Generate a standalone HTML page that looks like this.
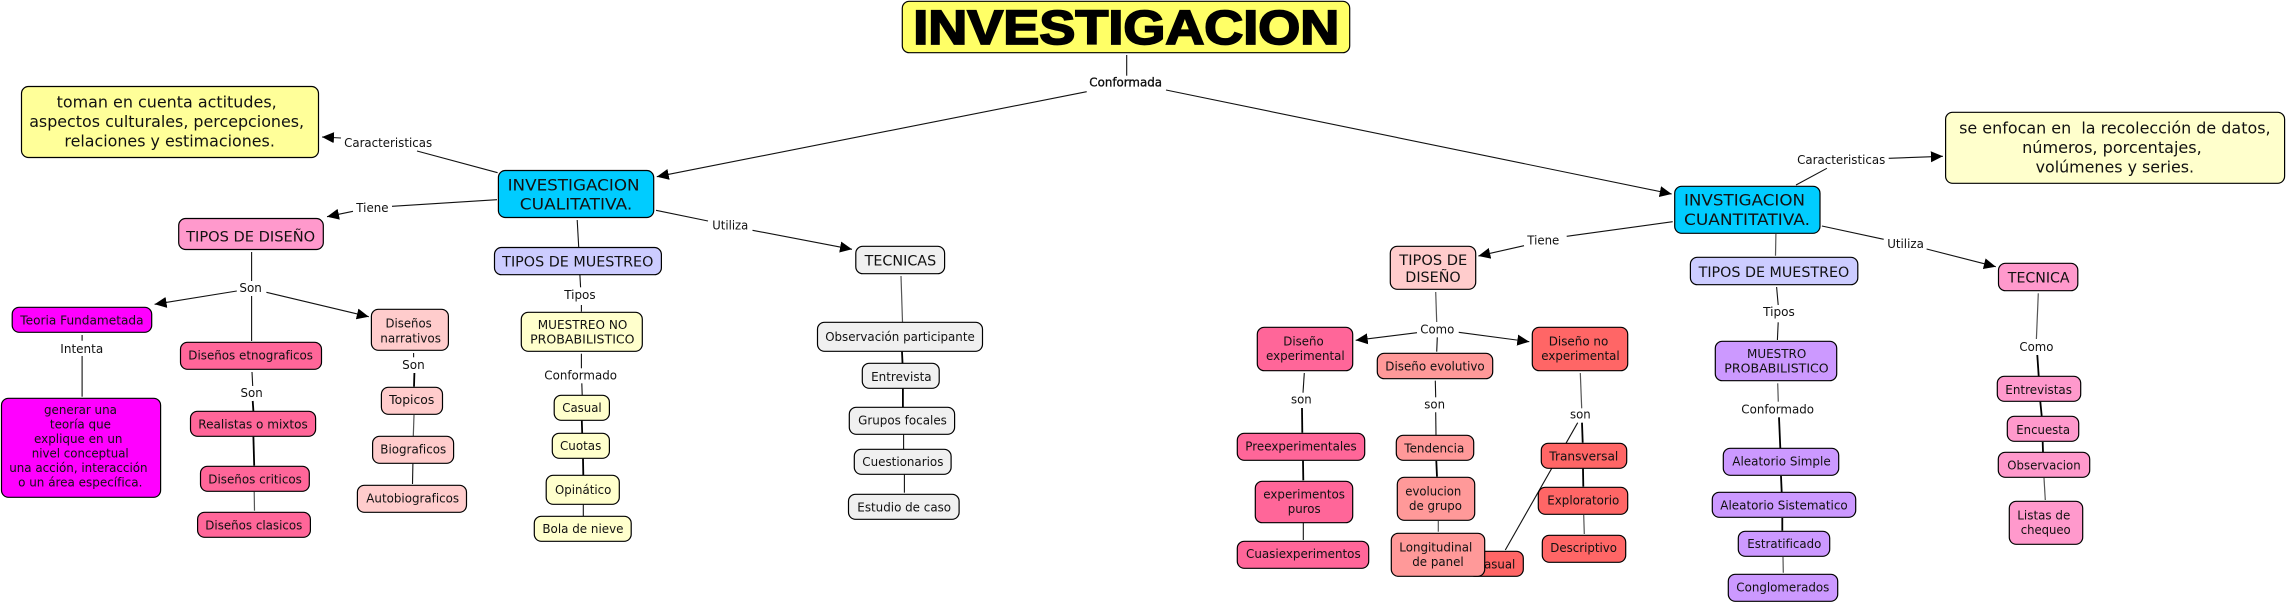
<!DOCTYPE html>
<html lang="es"><head><meta charset="utf-8"><title>Investigacion</title>
<style>
html,body{margin:0;padding:0;background:#fff;width:2286px;height:604px;overflow:hidden}
svg{display:block}
text{font-family:"DejaVu Sans","Liberation Sans",sans-serif;font-size:12px;fill:#111;lengthAdjust:spacingAndGlyphs}
.b{font-size:16px}.m{font-size:14px}
line{stroke:#111;stroke-width:1.1}
.t{stroke-width:1.8;stroke:#000}
.g{stroke:#555;stroke-width:1.2}
.n rect{stroke:#000;stroke-width:1.2}
</style></head><body>
<svg width="2286" height="604" viewBox="0 0 2286 604" xmlns="http://www.w3.org/2000/svg">
<defs><marker id="a" markerUnits="userSpaceOnUse" markerWidth="14" markerHeight="12" refX="12" refY="5.5" orient="auto"><path d="M0 0L12 5.5L0 11z" fill="#000"/></marker></defs>

<g>
<line x1="1126.7" y1="55" x2="1126.7" y2="75.7"/>
<line x1="1086.7" y1="91.7" x2="656.8" y2="176.7" marker-end="url(#a)"/>
<line x1="1166" y1="90" x2="1671.7" y2="194" marker-end="url(#a)"/>
<line x1="417" y1="151" x2="497.6" y2="172.7"/>
<line x1="341" y1="138" x2="322" y2="137" marker-end="url(#a)"/>
<line x1="392" y1="206.3" x2="497" y2="199.7"/>
<line x1="353" y1="211.3" x2="327" y2="216.7" marker-end="url(#a)"/>
<line x1="251.6" y1="252" x2="251.6" y2="281"/>
<line x1="236.8" y1="291" x2="154.6" y2="304.3" marker-end="url(#a)"/>
<line x1="266.4" y1="292.3" x2="368.8" y2="316.7" marker-end="url(#a)"/>
<line x1="251.6" y1="296" x2="251.6" y2="341"/>
<line x1="82.1" y1="335" x2="82.1" y2="340.7"/>
<line x1="82.1" y1="356" x2="82.1" y2="396.7"/>
<line x1="252" y1="372" x2="252.7" y2="386"/>
<line class="t" x1="252.7" y1="401" x2="253.4" y2="411"/>
<line class="t" x1="253.4" y1="436.7" x2="254.2" y2="465.7"/>
<line class="g" x1="254.2" y1="491.7" x2="254.5" y2="510.7"/>
<line x1="413.6" y1="353" x2="413.6" y2="357.3"/>
<line class="t" x1="414.4" y1="373" x2="414" y2="386.7"/>
<line class="g" x1="414" y1="415" x2="413.3" y2="436"/>
<line x1="412.9" y1="463.7" x2="412.5" y2="484"/>
<line x1="577.2" y1="220" x2="578.7" y2="247"/>
<line x1="579.9" y1="275" x2="580.6" y2="287.3"/>
<line x1="581.4" y1="305" x2="581.4" y2="311.7"/>
<line x1="656" y1="210.3" x2="708" y2="221"/>
<line x1="752.5" y1="230.3" x2="852" y2="249.3" marker-end="url(#a)"/>
<line class="g" x1="901" y1="276" x2="902.5" y2="322"/>
<line x1="581.4" y1="353.7" x2="581.4" y2="368.3"/>
<line x1="581.8" y1="383.3" x2="582.2" y2="395"/>
<line class="t" x1="581.8" y1="420.7" x2="582.2" y2="433.3"/>
<line class="t" x1="583" y1="458.7" x2="583.3" y2="475"/>
<line x1="583.3" y1="504.7" x2="583.3" y2="516"/>
<line class="t" x1="902" y1="351.7" x2="902.5" y2="363"/>
<line class="t" x1="902.9" y1="388.7" x2="902.9" y2="407"/>
<line x1="903.6" y1="434.7" x2="903.6" y2="449"/>
<line x1="904.4" y1="474.7" x2="904.4" y2="492.7"/>
<line x1="1672.7" y1="221.7" x2="1566.7" y2="236.3"/>
<line x1="1524" y1="245.7" x2="1478.3" y2="256" marker-end="url(#a)"/>
<line class="g" x1="1435.7" y1="292" x2="1436.7" y2="322"/>
<line x1="1417" y1="332.7" x2="1355.7" y2="340.3" marker-end="url(#a)"/>
<line x1="1458.7" y1="332.3" x2="1529.3" y2="341.7" marker-end="url(#a)"/>
<line x1="1437.3" y1="337.3" x2="1436.7" y2="351.7"/>
<line x1="1304.3" y1="373" x2="1303" y2="392.7"/>
<line class="t" x1="1302" y1="408" x2="1302.3" y2="432.7"/>
<line class="t" x1="1303" y1="460.7" x2="1303.3" y2="480.3"/>
<line x1="1303.3" y1="523" x2="1303.3" y2="540"/>
<line x1="1435.3" y1="380.7" x2="1435.7" y2="397.3"/>
<line x1="1435.7" y1="412.3" x2="1436" y2="435"/>
<line class="t" x1="1436.3" y1="461" x2="1437" y2="476.7"/>
<line class="g" x1="1438.3" y1="521" x2="1438.3" y2="531.7"/>
<line class="g" x1="1580.3" y1="373" x2="1581.7" y2="408.3"/>
<line class="t" x1="1582" y1="422.7" x2="1582.7" y2="442.7"/>
<line x1="1577.7" y1="422.7" x2="1505.3" y2="550"/>
<line class="t" x1="1583" y1="468.7" x2="1583.3" y2="486.7"/>
<line class="g" x1="1583.7" y1="515" x2="1584.3" y2="534"/>
<line x1="1796" y1="185" x2="1826.9" y2="168.3"/>
<line x1="1888.7" y1="158.3" x2="1942.9" y2="156.3" marker-end="url(#a)"/>
<line class="g" x1="1775.9" y1="234" x2="1775.5" y2="255.7"/>
<line x1="1776.6" y1="287" x2="1778.2" y2="305"/>
<line x1="1778.2" y1="322.3" x2="1777.4" y2="340"/>
<line x1="1821.9" y1="226" x2="1883.7" y2="239.3"/>
<line x1="1926.6" y1="249" x2="1995.8" y2="266.7" marker-end="url(#a)"/>
<line class="g" x1="2038.3" y1="293.3" x2="2036.4" y2="339"/>
<line class="t" x1="2037.3" y1="355" x2="2038.7" y2="376"/>
<line class="g" x1="1777.7" y1="383.3" x2="1778.3" y2="401.7"/>
<line class="t" x1="1779" y1="417.3" x2="1780.3" y2="448"/>
<line class="t" x1="1781" y1="476" x2="1781.7" y2="492"/>
<line class="t" x1="1782.3" y1="518" x2="1782.3" y2="530.7"/>
<line class="g" x1="1783" y1="557" x2="1783.3" y2="572.7"/>
<line class="t" x1="2040.3" y1="401.7" x2="2041.7" y2="416"/>
<line class="t" x1="2042.7" y1="442" x2="2043" y2="452"/>
<line class="g" x1="2044" y1="478" x2="2045.3" y2="500"/>
</g>

<g class="n">
<rect x="902.3" y="1.3" width="447.4" height="51.4" rx="7" fill="#FFFF66"/>
<rect x="21.5" y="86.5" width="297" height="71" rx="7" fill="#FFFF99"/>
<rect x="1945.6" y="112.3" width="339" height="71" rx="7" fill="#FFFFCC"/>
<rect x="498.4" y="170.5" width="155.3" height="47" rx="7" fill="#00CCFF"/>
<rect x="1674.7" y="186.3" width="145.3" height="47" rx="7" fill="#00CCFF"/>
<rect x="178.7" y="218.5" width="144.6" height="31" rx="7" fill="#FF99CC"/>
<rect x="494.5" y="247.5" width="166.9" height="27.2" rx="7" fill="#CCCCFF"/>
<rect x="855.8" y="246.3" width="88.8" height="27.4" rx="7" fill="#F0F0F0"/>
<rect x="12.2" y="307.3" width="139.5" height="25" rx="7" fill="#FF00FF"/>
<rect x="1.5" y="398.3" width="159.1" height="99" rx="7" fill="#FF00FF"/>
<rect x="180.5" y="342.3" width="141" height="27" rx="7" fill="#FF6699"/>
<rect x="190.5" y="411.3" width="125.1" height="25" rx="7" fill="#FF6699"/>
<rect x="200.5" y="466.3" width="108.8" height="25" rx="7" fill="#FF6699"/>
<rect x="197.6" y="512.3" width="112.8" height="25" rx="7" fill="#FF6699"/>
<rect x="371.4" y="309.3" width="77" height="41" rx="7" fill="#FFCCCC"/>
<rect x="381.4" y="387.3" width="61.1" height="27" rx="7" fill="#FFCCCC"/>
<rect x="372.6" y="436.3" width="81" height="27" rx="7" fill="#FFCCCC"/>
<rect x="357.4" y="485.3" width="109.1" height="27" rx="7" fill="#FFCCCC"/>
<rect x="521.3" y="312.3" width="121" height="39" rx="7" fill="#FFFFCC"/>
<rect x="554.2" y="395.3" width="55.2" height="25" rx="7" fill="#FFFFCC"/>
<rect x="552.3" y="433.3" width="57.1" height="25" rx="7" fill="#FFFFCC"/>
<rect x="546.2" y="475.3" width="73.1" height="29" rx="7" fill="#FFFFCC"/>
<rect x="534.3" y="516.3" width="96.9" height="25" rx="7" fill="#FFFFCC"/>
<rect x="817.5" y="322.3" width="165" height="29" rx="7" fill="#F0F0F0"/>
<rect x="862.3" y="363.3" width="76.9" height="25" rx="7" fill="#F0F0F0"/>
<rect x="849.3" y="407.3" width="105.3" height="27" rx="7" fill="#F0F0F0"/>
<rect x="854.3" y="449.3" width="96.8" height="25" rx="7" fill="#F0F0F0"/>
<rect x="848.5" y="494.3" width="110.6" height="25" rx="7" fill="#F0F0F0"/>
<rect x="1390.3" y="246.3" width="85.4" height="43" rx="7" fill="#FFCCCC"/>
<rect x="1257.3" y="327.3" width="95.4" height="43.4" rx="7" fill="#FF6699"/>
<rect x="1377.3" y="353.3" width="115.4" height="25.4" rx="7" fill="#FF9999"/>
<rect x="1532.3" y="327.3" width="95.4" height="43.4" rx="7" fill="#FF6666"/>
<rect x="1237.3" y="433.3" width="127.4" height="27" rx="7" fill="#FF6699"/>
<rect x="1255.3" y="481.3" width="97.4" height="41.4" rx="7" fill="#FF6699"/>
<rect x="1237.3" y="541.3" width="131.4" height="27" rx="7" fill="#FF6699"/>
<rect x="1396.3" y="435.3" width="77.4" height="25" rx="7" fill="#FF9999"/>
<rect x="1397.3" y="477.3" width="77.4" height="43" rx="7" fill="#FF9999"/>
<rect x="1468" y="551.3" width="55.3" height="25" rx="7" fill="#FF6666"/>
</g>
<text x="1475.9" y="568.7" textLength="39.4" lengthAdjust="spacingAndGlyphs">Casual</text>
<g class="n">
<rect x="1391.3" y="533.3" width="93.4" height="43" rx="7" fill="#FF9999"/>
<rect x="1541.3" y="443.3" width="85.4" height="25" rx="7" fill="#FF6666"/>
<rect x="1538.3" y="487.3" width="89.4" height="27" rx="7" fill="#FF6666"/>
<rect x="1542.3" y="535.3" width="83.4" height="27" rx="7" fill="#FF6666"/>
<rect x="1690.4" y="257.3" width="167.4" height="27.4" rx="7" fill="#CCCCFF"/>
<rect x="1998.5" y="263.3" width="79.3" height="27.4" rx="7" fill="#FF99CC"/>
<rect x="1715.3" y="341.3" width="121.4" height="39.4" rx="7" fill="#CC99FF"/>
<rect x="1723.3" y="448.3" width="115.4" height="27" rx="7" fill="#CC99FF"/>
<rect x="1712.3" y="492.3" width="143.4" height="25" rx="7" fill="#CC99FF"/>
<rect x="1738.3" y="531.3" width="91.4" height="25" rx="7" fill="#CC99FF"/>
<rect x="1728.3" y="574.3" width="109.4" height="27" rx="7" fill="#CC99FF"/>
<rect x="1997.3" y="376.3" width="83.4" height="25" rx="7" fill="#FF99CC"/>
<rect x="2007.3" y="416.3" width="71.4" height="25" rx="7" fill="#FF99CC"/>
<rect x="1998.3" y="452.3" width="91.4" height="25" rx="7" fill="#FF99CC"/>
<rect x="2009.3" y="501.3" width="73.4" height="43" rx="7" fill="#FF99CC"/>
</g>

<g lengthAdjust="spacingAndGlyphs">
<text x="913.3" y="44" textLength="426" lengthAdjust="spacingAndGlyphs" style="font-family:'Liberation Sans',sans-serif;font-weight:bold;font-size:48px;fill:#000;stroke:#000;stroke-width:1.8">INVESTIGACION</text>
<text x="1089.3" y="86.7" textLength="72.7" lengthAdjust="spacingAndGlyphs" style="stroke:#000;stroke-width:.3">Conformada</text>
<text class="b" x="56.6" y="107.7" textLength="220.1" lengthAdjust="spacingAndGlyphs">toman en cuenta actitudes,</text>
<text class="b" x="29.2" y="127" textLength="274.9" lengthAdjust="spacingAndGlyphs">aspectos culturales, percepciones,</text>
<text class="b" x="64.4" y="146.3" textLength="210.5" lengthAdjust="spacingAndGlyphs">relaciones y estimaciones.</text>
<text x="344.1" y="147" textLength="88" lengthAdjust="spacingAndGlyphs">Caracteristicas</text>
<text x="356.3" y="212" textLength="32.2" lengthAdjust="spacingAndGlyphs">Tiene</text>
<text class="m" x="186.1" y="241.3" textLength="129.1" lengthAdjust="spacingAndGlyphs">TIPOS DE DISEÑO</text>
<text x="239.4" y="292" textLength="22.5" lengthAdjust="spacingAndGlyphs">Son</text>
<text class="b" x="507.6" y="190.3" textLength="132" lengthAdjust="spacingAndGlyphs">INVESTIGACION</text>
<text class="b" x="519.8" y="209.7" textLength="112.5" lengthAdjust="spacingAndGlyphs">CUALITATIVA.</text>
<text class="m" x="502.2" y="266.7" textLength="151.2" lengthAdjust="spacingAndGlyphs">TIPOS DE MUESTREO</text>
<text class="m" x="864.6" y="265.7" textLength="71.6" lengthAdjust="spacingAndGlyphs">TECNICAS</text>
<text x="564.2" y="299" textLength="31.4" lengthAdjust="spacingAndGlyphs">Tipos</text>
<text x="712.3" y="229.3" textLength="36" lengthAdjust="spacingAndGlyphs">Utiliza</text>
<text x="20.3" y="324.5" textLength="123.2" lengthAdjust="spacingAndGlyphs">Teoria Fundametada</text>
<text x="60.3" y="353" textLength="42.9" lengthAdjust="spacingAndGlyphs">Intenta</text>
<text x="44" y="414" textLength="72.9" lengthAdjust="spacingAndGlyphs">generar una</text>
<text x="49.9" y="428.7" textLength="61.1" lengthAdjust="spacingAndGlyphs">teoría que</text>
<text x="34" y="443" textLength="88.5" lengthAdjust="spacingAndGlyphs">explique en un</text>
<text x="31.8" y="457.7" textLength="96.9" lengthAdjust="spacingAndGlyphs">nivel conceptual</text>
<text x="9.2" y="472" textLength="138.4" lengthAdjust="spacingAndGlyphs">una acción, interacción</text>
<text x="18.1" y="486.7" textLength="124.3" lengthAdjust="spacingAndGlyphs">o un área específica.</text>
<text x="188.3" y="359.7" textLength="124.7" lengthAdjust="spacingAndGlyphs">Diseños etnograficos</text>
<text x="240.5" y="397" textLength="22.2" lengthAdjust="spacingAndGlyphs">Son</text>
<text x="198.3" y="428.3" textLength="109.5" lengthAdjust="spacingAndGlyphs">Realistas o mixtos</text>
<text x="208.3" y="483.7" textLength="93.6" lengthAdjust="spacingAndGlyphs">Diseños criticos</text>
<text x="205.3" y="529.7" textLength="97" lengthAdjust="spacingAndGlyphs">Diseños clasicos</text>
<text x="385.5" y="327.7" textLength="46.2" lengthAdjust="spacingAndGlyphs">Diseños</text>
<text x="380.3" y="342.3" textLength="60.7" lengthAdjust="spacingAndGlyphs">narrativos</text>
<text x="402.1" y="369" textLength="22.6" lengthAdjust="spacingAndGlyphs">Son</text>
<text x="389.2" y="404" textLength="45.1" lengthAdjust="spacingAndGlyphs">Topicos</text>
<text x="380.3" y="453.3" textLength="65.9" lengthAdjust="spacingAndGlyphs">Biograficos</text>
<text x="366.3" y="502.3" textLength="92.8" lengthAdjust="spacingAndGlyphs">Autobiograficos</text>
<text x="537.8" y="329" textLength="89.5" lengthAdjust="spacingAndGlyphs">MUESTREO NO</text>
<text x="530.1" y="343.7" textLength="104.5" lengthAdjust="spacingAndGlyphs">PROBABILISTICO</text>
<text x="544.3" y="379.3" textLength="72.7" lengthAdjust="spacingAndGlyphs">Conformado</text>
<text x="562.3" y="412" textLength="39.4" lengthAdjust="spacingAndGlyphs">Casual</text>
<text x="560" y="450" textLength="41.3" lengthAdjust="spacingAndGlyphs">Cuotas</text>
<text x="555" y="494" textLength="56.3" lengthAdjust="spacingAndGlyphs">Opinático</text>
<text x="542.4" y="533" textLength="81.1" lengthAdjust="spacingAndGlyphs">Bola de nieve</text>
<text x="825.2" y="341" textLength="149.6" lengthAdjust="spacingAndGlyphs">Observación participante</text>
<text x="871.1" y="381" textLength="60.5" lengthAdjust="spacingAndGlyphs">Entrevista</text>
<text x="858.1" y="424.3" textLength="88.8" lengthAdjust="spacingAndGlyphs">Grupos focales</text>
<text x="862.3" y="466" textLength="81.1" lengthAdjust="spacingAndGlyphs">Cuestionarios</text>
<text x="857.3" y="511.3" textLength="93.8" lengthAdjust="spacingAndGlyphs">Estudio de caso</text>
<text class="m" x="1399.3" y="265" textLength="68" lengthAdjust="spacingAndGlyphs">TIPOS DE</text>
<text class="m" x="1405.3" y="282" textLength="55.4" lengthAdjust="spacingAndGlyphs">DISEÑO</text>
<text x="1527.3" y="244.3" textLength="32" lengthAdjust="spacingAndGlyphs">Tiene</text>
<text x="1420.3" y="333.3" textLength="34" lengthAdjust="spacingAndGlyphs">Como</text>
<text x="1283.3" y="345.7" textLength="40.4" lengthAdjust="spacingAndGlyphs">Diseño</text>
<text x="1266" y="360" textLength="78.7" lengthAdjust="spacingAndGlyphs">experimental</text>
<text x="1385.3" y="370.3" textLength="99.4" lengthAdjust="spacingAndGlyphs">Diseño evolutivo</text>
<text x="1548.7" y="345.7" textLength="59.6" lengthAdjust="spacingAndGlyphs">Diseño no</text>
<text x="1541.3" y="360" textLength="78.4" lengthAdjust="spacingAndGlyphs">experimental</text>
<text x="1291" y="403.3" textLength="20.7" lengthAdjust="spacingAndGlyphs">son</text>
<text x="1424.3" y="408.3" textLength="20.7" lengthAdjust="spacingAndGlyphs">son</text>
<text x="1570" y="418.3" textLength="20.7" lengthAdjust="spacingAndGlyphs">son</text>
<text x="1245.3" y="450.3" textLength="111.4" lengthAdjust="spacingAndGlyphs">Preexperimentales</text>
<text x="1263.3" y="498.3" textLength="81.7" lengthAdjust="spacingAndGlyphs">experimentos</text>
<text x="1287.7" y="513" textLength="33" lengthAdjust="spacingAndGlyphs">puros</text>
<text x="1246" y="558" textLength="114.7" lengthAdjust="spacingAndGlyphs">Cuasiexperimentos</text>
<text x="1404.3" y="452.3" textLength="60" lengthAdjust="spacingAndGlyphs">Tendencia</text>
<text x="1405.3" y="495.3" textLength="56" lengthAdjust="spacingAndGlyphs">evolucion</text>
<text x="1409" y="510" textLength="53" lengthAdjust="spacingAndGlyphs">de grupo</text>
<text x="1399.3" y="551.3" textLength="73" lengthAdjust="spacingAndGlyphs">Longitudinal</text>
<text x="1412.3" y="566" textLength="51.4" lengthAdjust="spacingAndGlyphs">de panel</text>
<text x="1549.3" y="460.3" textLength="69" lengthAdjust="spacingAndGlyphs">Transversal</text>
<text x="1547.3" y="504.3" textLength="72" lengthAdjust="spacingAndGlyphs">Exploratorio</text>
<text x="1550.3" y="552" textLength="66.7" lengthAdjust="spacingAndGlyphs">Descriptivo</text>
<text class="b" x="1959.1" y="133.7" textLength="311.5" lengthAdjust="spacingAndGlyphs" xml:space="preserve">se enfocan en  la recolección de datos,</text>
<text class="b" x="2022.1" y="153" textLength="179.7" lengthAdjust="spacingAndGlyphs">números, porcentajes,</text>
<text class="b" x="2035.6" y="172.3" textLength="158.5" lengthAdjust="spacingAndGlyphs">volúmenes y series.</text>
<text x="1797.1" y="164" textLength="88.2" lengthAdjust="spacingAndGlyphs">Caracteristicas</text>
<text x="1887.2" y="248" textLength="36.7" lengthAdjust="spacingAndGlyphs">Utiliza</text>
<text class="b" x="1684" y="205.7" textLength="121" lengthAdjust="spacingAndGlyphs">INVSTIGACION</text>
<text class="b" x="1684" y="225" textLength="126" lengthAdjust="spacingAndGlyphs">CUANTITATIVA.</text>
<text class="m" x="1698.6" y="277" textLength="150.7" lengthAdjust="spacingAndGlyphs">TIPOS DE MUESTREO</text>
<text x="1763.1" y="316" textLength="31.7" lengthAdjust="spacingAndGlyphs">Tipos</text>
<text class="m" x="2007.8" y="282.7" textLength="61.8" lengthAdjust="spacingAndGlyphs">TECNICA</text>
<text x="2019.4" y="351" textLength="34" lengthAdjust="spacingAndGlyphs">Como</text>
<text x="1747" y="358" textLength="59.3" lengthAdjust="spacingAndGlyphs">MUESTRO</text>
<text x="1724.3" y="372.7" textLength="104.4" lengthAdjust="spacingAndGlyphs">PROBABILISTICO</text>
<text x="1741.3" y="413.3" textLength="72.7" lengthAdjust="spacingAndGlyphs">Conformado</text>
<text x="1732.3" y="465.3" textLength="98.4" lengthAdjust="spacingAndGlyphs">Aleatorio Simple</text>
<text x="1720.3" y="509.3" textLength="127.4" lengthAdjust="spacingAndGlyphs">Aleatorio Sistematico</text>
<text x="1747.3" y="548" textLength="74" lengthAdjust="spacingAndGlyphs">Estratificado</text>
<text x="1736.3" y="591.3" textLength="93" lengthAdjust="spacingAndGlyphs">Conglomerados</text>
<text x="2005.3" y="394" textLength="66.7" lengthAdjust="spacingAndGlyphs">Entrevistas</text>
<text x="2016.3" y="434" textLength="53.7" lengthAdjust="spacingAndGlyphs">Encuesta</text>
<text x="2007.3" y="469.3" textLength="73.4" lengthAdjust="spacingAndGlyphs">Observacion</text>
<text x="2017.3" y="519.3" textLength="53" lengthAdjust="spacingAndGlyphs">Listas de</text>
<text x="2020.7" y="534" textLength="50" lengthAdjust="spacingAndGlyphs">chequeo</text>
</g>
</svg>
</body></html>
